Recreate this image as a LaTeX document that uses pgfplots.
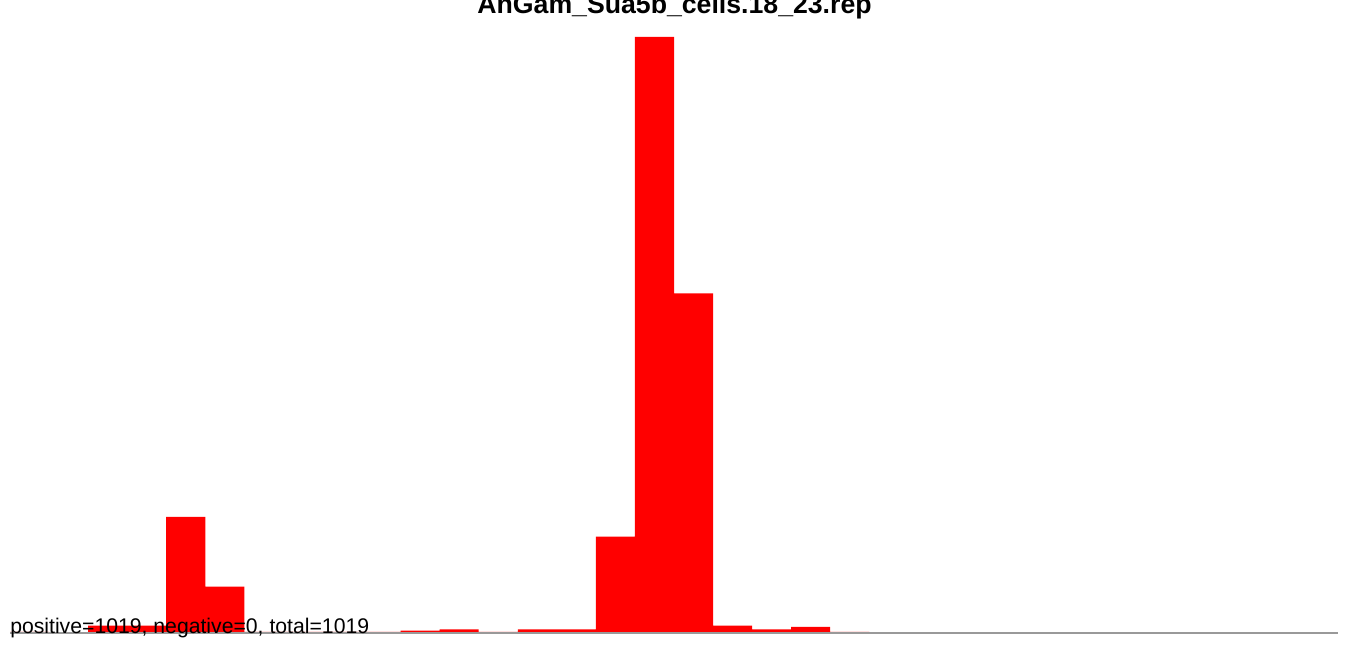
\documentclass[border=0pt]{standalone}
\usepackage{fontspec}
\setmainfont{Liberation Sans}
\usepackage{pgfplots}
\pgfplotsset{compat=1.18}
\definecolor{axgray}{HTML}{999999}
\begin{document}
\begin{tikzpicture}
% 1px = 0.75pt, page 1350x645 px
\begin{axis}[
  at={(7.5pt,9pt)}, anchor=south west,
  scale only axis, width=996pt, height=447pt,
  xmin=0, xmax=34, ymin=0, ymax=488,
  axis x line=bottom, axis y line=none,
  x axis line style={draw=axgray, line width=1.5pt, -},
  xtick=\empty, ytick=\empty,
  clip=false, axis on top,
]
% histogram of counts, bins 0..21
\addplot[ybar interval, fill=red, draw=none] coordinates {
  (0,1)(1,0)(2,6)(3,6)(4,95)(5,38)(6,1)(7,1)(8,1)(9,1)(10,2)
  (11,3)(12,1)(13,3)(14,3)(15,79)(16,488)(17,278)(18,6)(19,3)
  (20,5)(21,1)(22,1)
};
\end{axis}
\node[anchor=base west, inner sep=0pt, font=\fontsize{15.9pt}{17pt}\selectfont]
  at (7.5pt,8.25pt) {positive=1019, negative=0, total=1019};
\node[anchor=base, inner sep=0pt, font=\fontsize{20pt}{22pt}\selectfont\bfseries]
  at (505.9pt,473.25pt) {AnGam\_Sua5b\_cells.18\_23.rep};
\pgfresetboundingbox
\path (0,0) rectangle (1012.5pt,483.75pt);
\end{tikzpicture}
\end{document}
